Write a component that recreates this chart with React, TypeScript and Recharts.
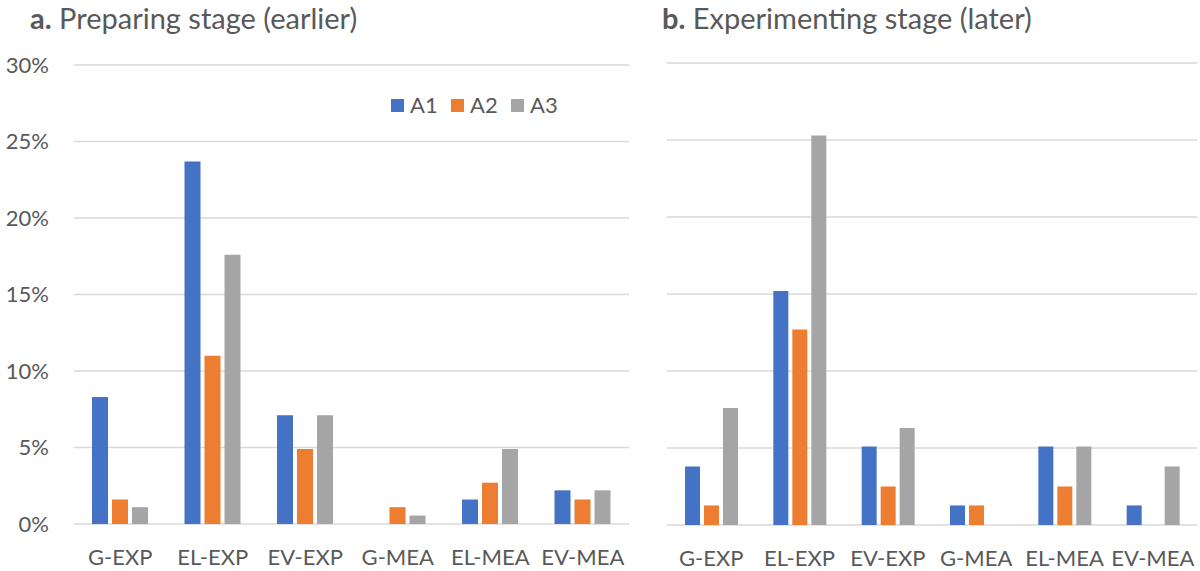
import React from "react";
import { BarChart, Bar, XAxis, YAxis, CartesianGrid } from "recharts";

// categories along the x axis
const categories = ["G-EXP", "EL-EXP", "EV-EXP", "G-MEA", "EL-MEA", "EV-MEA"];

// a. preparing stage (earlier), percent
const prepA1 = [8.3, 23.7, 7.1, 0, 1.6, 2.2];
const prepA2 = [1.6, 11.0, 4.9, 1.1, 2.7, 1.6];
const prepA3 = [1.1, 17.6, 7.1, 0.55, 4.9, 2.2];

// b. experimenting stage (later), percent
const expA1 = [3.8, 15.2, 5.1, 1.27, 5.1, 1.27];
const expA2 = [1.27, 12.7, 2.5, 1.27, 2.5, 0];
const expA3 = [7.6, 25.3, 6.3, 0, 5.1, 3.8];

const yTicks = [0, 5, 10, 15, 20, 25, 30];

const series = [
  { key: "A1", color: "#4472C4" },
  { key: "A2", color: "#ED7D31" },
  { key: "A3", color: "#A5A5A5" },
];

const FONT = "Lato, 'Noto Sans', sans-serif";
const TEXT = "#595959";
const GRID = "#D9D9D9";

function buildRows(a1: number[], a2: number[], a3: number[]) {
  return categories.map((name, i) => ({ name, A1: a1[i], A2: a2[i], A3: a3[i] }));
}

const prepRows = buildRows(prepA1, prepA2, prepA3);
const expRows = buildRows(expA1, expA2, expA3);

function LegendBox({ left, top }: { left: number; top: number }) {
  return (
    <div
      style={{
        position: "absolute",
        left,
        top,
        display: "flex",
        fontFamily: FONT,
        fontSize: 22,
        lineHeight: "26px",
        color: TEXT,
      }}
    >
      {series.map((s) => (
        <div key={s.key} style={{ display: "flex", alignItems: "center", width: 60 }}>
          <span
            style={{
              display: "inline-block",
              width: 13,
              height: 13,
              background: s.color,
              marginRight: 6,
            }}
          />
          <span>{s.key}</span>
        </div>
      ))}
    </div>
  );
}

function Title({ letter, text, left }: { letter: string; text: string; left: number }) {
  return (
    <div
      style={{
        position: "absolute",
        left,
        top: 0,
        fontFamily: FONT,
        fontSize: 29,
        color: TEXT,
        lineHeight: "36px",
        whiteSpace: "nowrap",
      }}
    >
      <b>{letter}</b> {text}
    </div>
  );
}

export default function App() {
  const tickStyle = { fill: TEXT, fontSize: 22, fontFamily: FONT };
  return (
    <div
      style={{
        position: "absolute",
        left: 0,
        top: 0,
        width: 1200,
        height: 571,
        background: "#fff",
        overflow: "hidden",
      }}
    >
      <Title letter="a." text="Preparing stage (earlier)" left={30} />
      <Title letter="b." text="Experimenting stage (later)" left={662} />

      <div style={{ position: "absolute", left: 0, top: 0 }}>
        <BarChart
          width={640}
          height={571}
          data={prepRows}
          margin={{ top: 65, right: 11, bottom: 0, left: 0 }}
          barSize={16}
          barGap={4}
        >
          <CartesianGrid vertical={false} stroke={GRID} strokeWidth={1.6} />
          <XAxis
            dataKey="name"
            axisLine={false}
            tickLine={false}
            height={47}
            tickMargin={19}
            tick={tickStyle}
            interval={0}
          />
          <YAxis
            width={74}
            domain={[0, 30]}
            ticks={yTicks}
            axisLine={false}
            tickLine={false}
            tickMargin={19}
            tick={tickStyle}
            tickFormatter={(v) => `${v}%`}
          />
          {series.map((s) => (
            <Bar key={s.key} dataKey={s.key} fill={s.color} isAnimationActive={false} />
          ))}
        </BarChart>
      </div>
      <LegendBox left={391} top={92} />

      <div style={{ position: "absolute", left: 640, top: 0 }}>
        <BarChart
          width={560}
          height={571}
          data={expRows}
          margin={{ top: 63, right: 3, bottom: 0, left: 27 }}
          barSize={15}
          barGap={4}
        >
          <CartesianGrid vertical={false} stroke={GRID} strokeWidth={1.6} />
          <XAxis
            dataKey="name"
            axisLine={false}
            tickLine={false}
            height={46}
            tickMargin={19}
            tick={tickStyle}
            interval={0}
          />
          <YAxis hide domain={[0, 30]} ticks={yTicks} />
          {series.map((s) => (
            <Bar key={s.key} dataKey={s.key} fill={s.color} isAnimationActive={false} />
          ))}
        </BarChart>
      </div>
    </div>
  );
}
